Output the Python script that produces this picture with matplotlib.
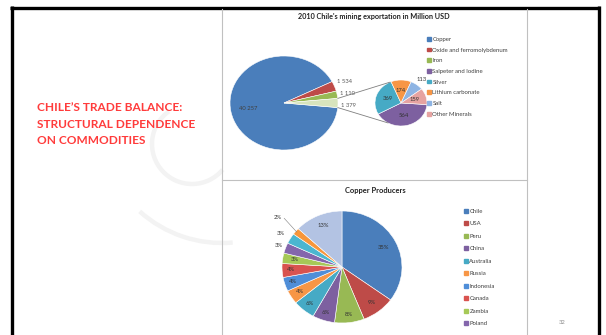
import numpy as np
import matplotlib
matplotlib.use('Agg')
import matplotlib.pyplot as plt
from matplotlib.patches import Patch, Arc
from matplotlib.lines import Line2D
from matplotlib.patches import ConnectionPatch

# ---- data ----
export_labels = ['Copper', 'Oxide and ferromolybdenum', 'Iron', 'Salpeter and Iodine',
                 'Silver', 'Lithium carbonate', 'Salt', 'Other Minerals']
main_values = [40257, 1534, 1110, 1379]          # copper, oxide, iron, rest
rest_values = [564, 369, 174, 113, 159]          # salpeter, silver, lithium, salt, other

producers = ['Chile', 'USA', 'Peru', 'China', 'Australia', 'Russia', 'Indonesia',
             'Canada', 'Zambia', 'Poland', '', '', '']
producer_share = [35, 9, 8, 6, 6, 4, 4, 4, 3, 3, 3, 2, 13]

heading = "CHILE\u2019S TRADE BALANCE:\nSTRUCTURAL DEPENDENCE\nON COMMODITIES"

# ---- style ----
plt.rcParams['font.family'] = ['Lato', 'DejaVu Sans']
W, H = 606, 335
fig = plt.figure(figsize=(W / 100, H / 100), dpi=100)

blue, red, green, purple, aqua, orange = '#4a7ebb', '#be4b48', '#98b954', '#7d60a0', '#46aac5', '#f79646'
main_colors = [blue, red, green, '#d7e4bd']
rest_colors = [purple, aqua, orange, '#8eb4e3', '#e6a3a1']
legend_colors = [blue, red, green, purple, aqua, orange, '#8eb4e3', '#e6a3a1']
prod_colors = [blue, red, green, purple, aqua, orange, '#4f8ed8', '#d9534f', '#a6c957',
               '#8466ac', '#4bb6d0', '#f7963a', '#b3c3e3']


def px_axes(x0, y0, w, h, **kw):
    return fig.add_axes([x0 / W, 1 - (y0 + h) / H, w / W, h / H], **kw)


# background / slide decoration
bg = px_axes(0, 0, W, H)
bg.set_xlim(0, W)
bg.set_ylim(H, 0)
bg.axis('off')
bg.add_patch(Arc((192, 144), 80, 80, theta1=-320, theta2=-125, color='#f3f3f3', lw=3.2))
bg.add_patch(Arc((222, 120), 246, 246, theta1=85, theta2=132, color='#f3f3f3', lw=3.2))
bg.plot([10, 600], [7.5, 7.5], color='black', lw=2.4, solid_capstyle='butt')
bg.plot([11.5, 11.5], [6, 335], color='black', lw=2.4, solid_capstyle='butt')
bg.plot([598.5, 598.5], [6, 335], color='black', lw=2.4, solid_capstyle='butt')
bg.plot([222, 222], [9, 335], color='#c0c0c0', lw=0.8)
bg.plot([527, 527], [9, 335], color='#c0c0c0', lw=0.8)
bg.plot([222, 527], [180, 180], color='#c0c0c0', lw=0.8)
bg.text(37, 124, heading, color='#ff3b3b', fontsize=8.6, fontweight='bold',
        va='center', ha='left', linespacing=1.6)
bg.text(562, 323, '32', color='#8c8c8c', fontsize=4.2, ha='center', va='center')
bg.text(374, 16, "2010 Chile's mining exportation in Million USD", fontsize=5.2,
        fontweight='bold', ha='center', va='center', color='#222222')
bg.text(375, 191, 'Copper Producers', fontsize=5.4, fontweight='bold',
        ha='center', va='center', color='#222222')

# ---- big pie ----
ax1 = px_axes(230, 56, 108, 94)
w1, _ = ax1.pie(main_values, colors=main_colors, startangle=-5.6, counterclock=False,
                wedgeprops=dict(edgecolor='white', linewidth=0.4))
ax1.set_aspect('auto')
ax1.set_xlim(-1, 1)
ax1.set_ylim(-1, 1)
fmt = lambda v: '{:,}'.format(v).replace(',', ' ')
for i, w in enumerate(w1):
    ang = np.deg2rad((w.theta1 + w.theta2) / 2)
    if i == 0:
        ax1.text(0.68 * np.cos(ang), 0.68 * np.sin(ang), fmt(main_values[i]),
                 fontsize=4.2, color='#404040', ha='center', va='center')
    else:
        ax1.text(1.06 * np.cos(ang), 1.12 * np.sin(ang) + (i - 2) * -0.06, fmt(main_values[i]),
                 fontsize=4.2, color='#595959', ha='left', va='center')

# ---- small pie ----
ax2 = px_axes(375, 80, 52, 46)
w2, _ = ax2.pie(rest_values, colors=rest_colors, startangle=-4, counterclock=False,
                wedgeprops=dict(edgecolor='white', linewidth=0.4))
ax2.set_aspect('auto')
ax2.set_xlim(-1, 1)
ax2.set_ylim(-1, 1)
for i, w in enumerate(w2):
    ang = np.deg2rad((w.theta1 + w.theta2) / 2)
    r = 1.3 if rest_values[i] == 113 else 0.55
    ax2.text(r * np.cos(ang), r * np.sin(ang), str(rest_values[i]),
             fontsize=4.2, color='#333333', ha='center', va='center')

# connectors between the two pies
rest_w = w1[-1]
for a_big, a_small in [(rest_w.theta2, 115), (rest_w.theta1, -120)]:
    ta, tb = np.deg2rad(a_big), np.deg2rad(a_small)
    con = ConnectionPatch(xyA=(np.cos(ta), np.sin(ta)), coordsA=ax1.transData,
                          xyB=(np.cos(tb), np.sin(tb)), coordsB=ax2.transData,
                          color='#7f7f7f', lw=0.6)
    fig.add_artist(con)

fig.legend(handles=[Patch(color=c) for c in legend_colors], labels=export_labels,
           loc='upper left', bbox_to_anchor=(427 / W, 1 - 37 / H), frameon=False,
           fontsize=4.3, handlelength=0.6, handleheight=0.6, handletextpad=0.3,
           labelspacing=0.95, borderpad=0, borderaxespad=0, labelcolor='#404040')

# ---- copper producers pie ----
ax3 = px_axes(282, 211, 120, 112)
w3, _ = ax3.pie(producer_share, colors=prod_colors, startangle=90, counterclock=False,
                wedgeprops=dict(edgecolor='white', linewidth=0.4))
ax3.set_aspect('auto')
ax3.set_xlim(-1, 1)
ax3.set_ylim(-1, 1)
dist = [0.78, 0.8, 0.85, 0.85, 0.85, 0.82, 0.85, 0.85, 0.8, 1.12, 1.18, 1.38, 0.8]
for i, w in enumerate(w3):
    ang = np.deg2rad((w.theta1 + w.theta2) / 2)
    r = dist[i]
    x, y = r * np.cos(ang), r * np.sin(ang)
    ax3.text(x, y, '{}%'.format(producer_share[i]), fontsize=4.2, color='#333333',
             ha='center', va='center')
    if r > 1.3:
        ax3.add_line(Line2D([x + 0.1, 0.98 * np.cos(ang)], [y - 0.01, 0.98 * np.sin(ang)],
                            color='#7f7f7f', lw=0.4))

fig.legend(handles=[Patch(color=c) for c in prod_colors[:10]], labels=producers[:10],
           loc='upper left', bbox_to_anchor=(464 / W, 1 - 209 / H), frameon=False,
           fontsize=4.3, handlelength=0.6, handleheight=0.6, handletextpad=0.3,
           labelspacing=1.25, borderpad=0, borderaxespad=0, labelcolor='#404040')

fig.savefig('out.png', dpi=100)
